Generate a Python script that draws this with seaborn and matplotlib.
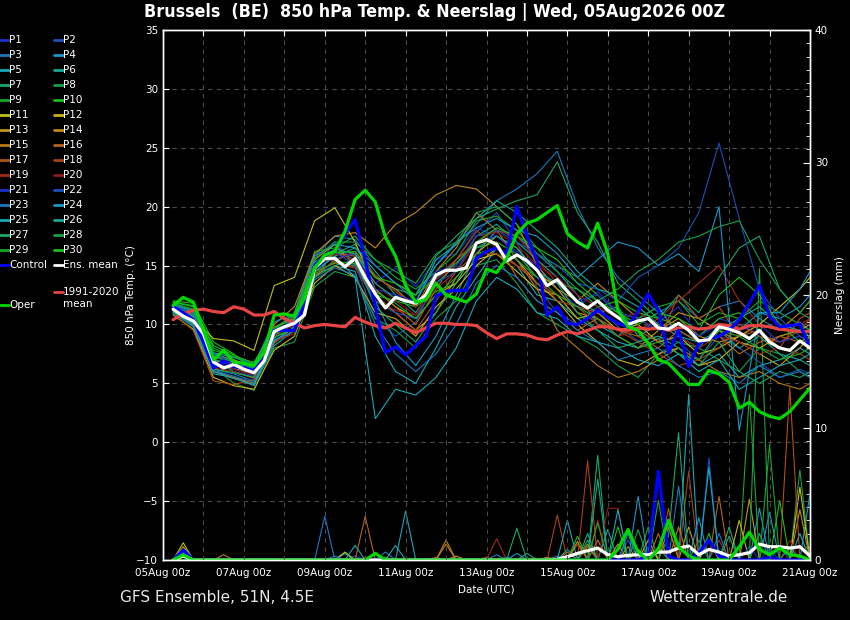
import numpy as np
import pandas as pd
import matplotlib.pyplot as plt
import seaborn as sns
from matplotlib.lines import Line2D
from matplotlib.ticker import MultipleLocator

# time in days after 05Aug 00z
t6 = np.arange(6, 385, 6) / 24                    # 6-hourly: 05Aug 06z .. 21Aug 00z
t12 = np.r_[np.arange(6, 384, 12), 384] / 24      # 12-hourly member temps

day_ticks = [0, 2, 4, 6, 8, 10, 12, 14, 16]
day_labels = ['05Aug 00z', '07Aug 00z', '09Aug 00z', '11Aug 00z', '13Aug 00z',
              '15Aug 00z', '17Aug 00z', '19Aug 00z', '21Aug 00z']

# 850 hPa temperature (deg C), 6-hourly
ens_mean = [11.3, 10.7, 10.3, 9.2, 6.8, 6.3, 6.6, 6.2, 5.9, 6.9, 9.4, 9.8, 10.1, 10.8, 14.8, 15.6,
            15.6, 14.9, 15.6, 14.0, 12.6, 11.4, 12.3, 12.0, 11.8, 12.5, 14.2, 14.6, 14.6, 14.8, 16.9, 17.2,
            16.8, 15.4, 15.9, 15.4, 14.6, 13.3, 13.8, 12.8, 11.9, 11.4, 12.0, 11.2, 10.6, 10.0, 10.3, 10.5,
            9.7, 9.6, 10.1, 9.5, 8.6, 8.7, 9.8, 9.6, 9.3, 8.8, 9.5, 8.5, 8.0, 7.8, 8.6, 8.0]
oper = [11.6, 12.3, 11.9, 9.5, 7.0, 7.8, 6.8, 6.7, 6.5, 7.6, 10.8, 10.9, 10.7, 12.2, 14.8, 15.9,
        16.2, 17.9, 20.6, 21.4, 20.4, 17.4, 15.8, 13.3, 11.9, 12.1, 13.5, 12.5, 12.2, 11.9, 12.6, 14.7,
        14.4, 15.6, 17.7, 18.6, 18.9, 19.5, 20.1, 17.7, 17.0, 16.5, 18.6, 16.0, 11.2, 9.8, 9.5, 8.4,
        7.0, 6.7, 5.8, 4.9, 4.9, 6.1, 5.8, 5.1, 2.9, 3.4, 2.6, 2.2, 2.0, 2.6, 3.6, 4.6]
control = [11.5, 11.0, 10.4, 8.5, 6.3, 6.9, 6.4, 6.3, 6.1, 7.3, 9.5, 9.5, 9.5, 11.8, 15.0, 15.9,
           16.2, 17.7, 18.9, 15.5, 11.5, 7.6, 8.1, 7.4, 8.2, 9.0, 12.4, 12.8, 12.9, 12.9, 15.6, 16.2,
           16.5, 16.0, 20.0, 17.5, 15.4, 10.8, 11.5, 10.1, 10.0, 10.5, 11.2, 10.6, 10.1, 9.8, 11.1, 12.6,
           11.2, 7.6, 9.5, 6.4, 8.4, 8.8, 9.0, 9.5, 10.4, 11.8, 13.3, 10.7, 9.8, 9.9, 10.0, 8.1]
clim_1991_2020 = [10.4, 10.9, 11.2, 11.3, 11.1, 11.0, 11.5, 11.3, 10.8, 10.8, 11.1, 10.5, 10.1, 9.7, 9.9, 10.0,
                  9.9, 9.8, 10.6, 10.2, 9.9, 9.7, 10.1, 9.7, 9.3, 9.7, 10.1, 10.1, 10.0, 10.0, 9.9, 9.3,
                  8.8, 9.2, 9.2, 9.1, 8.8, 8.7, 9.1, 9.4, 9.2, 9.5, 9.8, 9.8, 9.6, 9.5, 9.7, 9.6,
                  9.7, 9.5, 9.7, 9.8, 9.6, 9.7, 10.0, 9.9, 9.6, 9.9, 9.9, 9.8, 9.6, 9.5, 9.4, 9.4]

# perturbed members P1..P30, 12-hourly
members_t850 = [
    [11.4, 10.6, 6.6, 6.2, 5.6, 9.0, 10.4, 15.2, 16.4, 16.0, 13.5, 14.8, 13.2, 15.5, 16.0, 18.2, 17.5, 16.2, 15.0, 13.0, 11.5, 12.8, 11.0, 9.5, 10.2, 11.5, 9.0, 10.5, 10.0, 9.2, 8.5, 9.0, 8.4],
    [11.0, 10.2, 7.2, 6.8, 6.0, 9.6, 9.8, 14.6, 17.0, 15.2, 10.5, 9.0, 10.2, 13.8, 15.5, 17.8, 19.5, 17.0, 13.2, 11.0, 10.0, 11.5, 9.8, 8.6, 9.0, 8.5, 7.0, 9.0, 8.0, 6.8, 5.5, 6.2, 5.8],
    [11.2, 10.0, 6.2, 5.8, 5.2, 8.8, 10.8, 15.8, 17.5, 17.2, 15.0, 13.5, 12.0, 15.0, 16.8, 18.5, 20.5, 21.5, 22.8, 24.7, 20.0, 16.5, 14.0, 12.5, 11.0, 12.0, 10.5, 11.5, 12.0, 10.5, 9.5, 10.2, 9.5],
    [11.5, 10.8, 7.0, 6.5, 6.5, 9.8, 10.5, 14.0, 16.2, 15.5, 12.0, 8.5, 6.5, 9.0, 12.5, 16.0, 18.0, 17.5, 16.0, 14.5, 12.5, 10.0, 9.0, 10.5, 11.5, 9.0, 8.0, 10.0, 9.5, 11.0, 10.5, 11.5, 12.5],
    [11.0, 9.8, 5.8, 5.5, 4.8, 8.2, 9.5, 14.2, 15.0, 14.5, 9.0, 6.0, 5.0, 8.0, 11.5, 14.0, 16.5, 15.0, 12.5, 12.0, 10.5, 9.5, 8.5, 8.0, 8.8, 7.5, 6.5, 7.5, 5.5, 6.5, 7.0, 8.0, 7.5],
    [11.8, 11.2, 7.5, 7.0, 6.2, 9.2, 10.0, 15.0, 15.8, 16.5, 14.5, 12.5, 11.0, 13.5, 15.0, 17.5, 18.5, 17.0, 15.5, 14.0, 12.0, 11.0, 11.5, 9.0, 10.0, 9.5, 8.5, 9.5, 8.0, 9.0, 7.5, 7.0, 6.5],
    [11.6, 11.0, 7.0, 6.0, 5.5, 9.0, 10.2, 14.8, 16.0, 16.8, 14.0, 13.0, 12.5, 15.8, 17.5, 19.0, 19.8, 20.5, 21.0, 23.8, 19.5, 17.0, 13.5, 12.0, 10.5, 12.5, 11.0, 14.0, 16.5, 17.5, 13.0, 11.0, 10.5],
    [11.3, 10.4, 6.4, 5.0, 4.4, 8.0, 8.5, 13.2, 14.5, 14.0, 10.5, 9.5, 8.0, 10.5, 12.0, 15.0, 15.5, 13.5, 11.0, 10.0, 9.0, 8.0, 6.5, 5.5, 7.5, 8.5, 8.0, 7.0, 6.0, 8.0, 7.5, 6.0, 5.5],
    [11.9, 11.6, 8.0, 7.2, 6.8, 9.5, 11.0, 16.2, 16.5, 17.5, 15.5, 14.0, 13.0, 14.5, 16.0, 18.8, 19.2, 18.0, 16.0, 15.0, 14.0, 12.5, 11.0, 10.5, 11.5, 12.0, 10.0, 11.0, 10.5, 12.0, 11.0, 10.0, 9.5],
    [12.0, 11.8, 8.5, 7.5, 6.0, 9.0, 9.6, 14.5, 15.2, 15.0, 12.5, 12.0, 11.5, 12.8, 13.5, 16.5, 17.0, 16.0, 14.0, 13.5, 13.0, 11.5, 12.0, 11.0, 10.5, 10.0, 9.0, 10.5, 11.0, 9.5, 8.0, 7.5, 7.0],
    [11.2, 10.5, 8.8, 8.6, 7.8, 13.3, 14.0, 18.8, 19.9, 17.0, 13.0, 11.5, 10.5, 12.5, 13.5, 15.5, 16.0, 14.5, 13.0, 12.5, 10.5, 11.0, 9.5, 10.0, 8.5, 9.0, 7.5, 8.0, 9.0, 10.0, 11.5, 13.0, 14.0],
    [10.8, 9.6, 5.5, 4.8, 4.5, 7.8, 9.0, 13.5, 15.0, 14.0, 11.0, 10.5, 9.0, 11.5, 13.0, 15.0, 16.5, 15.5, 13.5, 12.0, 10.0, 8.5, 7.0, 6.5, 7.5, 8.0, 6.5, 7.0, 8.5, 8.0, 9.0, 9.5, 10.0],
    [11.3, 10.2, 6.5, 6.3, 5.8, 9.2, 10.2, 15.5, 16.8, 15.0, 12.0, 11.0, 9.5, 11.0, 14.0, 16.0, 17.5, 16.5, 14.5, 13.0, 11.0, 10.5, 9.0, 8.0, 9.5, 11.0, 10.5, 9.5, 8.5, 7.5, 6.5, 8.0, 9.0],
    [11.6, 10.8, 7.3, 7.0, 6.4, 10.0, 11.5, 16.0, 17.5, 17.8, 16.5, 18.5, 19.5, 21.0, 21.8, 21.5, 20.0, 18.5, 15.0, 13.0, 12.0, 13.5, 12.0, 10.5, 9.5, 10.5, 9.0, 8.5, 9.0, 10.0, 9.5, 11.0, 12.0],
    [11.1, 10.0, 6.0, 5.5, 5.0, 8.5, 9.5, 14.0, 15.5, 16.0, 14.0, 13.0, 11.5, 14.5, 16.5, 19.5, 18.0, 15.5, 13.0, 9.5, 8.0, 6.5, 5.5, 6.0, 7.0, 8.0, 7.0, 6.0, 5.5, 6.0, 5.0, 4.5, 5.0],
    [11.4, 10.6, 6.9, 6.7, 6.0, 9.5, 10.0, 15.0, 16.0, 15.8, 13.0, 11.5, 10.0, 13.0, 15.5, 17.0, 17.0, 14.0, 12.0, 11.0, 9.5, 10.5, 9.5, 9.0, 8.0, 9.5, 8.5, 9.0, 7.5, 8.5, 9.0, 8.5, 9.0],
    [10.9, 9.5, 5.2, 4.9, 5.3, 8.4, 9.8, 14.5, 15.2, 14.8, 12.5, 11.0, 9.5, 12.0, 14.5, 16.0, 16.0, 15.0, 13.5, 12.5, 11.5, 11.0, 10.0, 9.5, 8.5, 12.5, 10.5, 11.5, 9.0, 9.5, 8.0, 10.5, 11.0],
    [11.5, 10.9, 7.1, 6.4, 6.1, 9.8, 10.6, 15.4, 15.5, 16.2, 14.2, 12.8, 11.5, 14.0, 15.5, 18.0, 16.5, 15.0, 14.0, 12.0, 11.5, 10.0, 9.5, 8.5, 7.5, 6.5, 7.0, 8.0, 10.0, 9.0, 8.5, 9.5, 10.5],
    [11.0, 10.1, 6.3, 6.0, 5.4, 8.6, 9.2, 14.2, 15.4, 14.8, 12.0, 11.2, 10.8, 13.0, 14.5, 17.0, 18.0, 17.5, 15.5, 13.5, 12.0, 10.5, 9.0, 9.5, 10.5, 12.0, 13.5, 15.0, 12.0, 10.0, 9.5, 10.0, 10.5],
    [11.3, 10.4, 6.8, 6.2, 5.7, 9.0, 10.0, 15.2, 16.0, 15.5, 13.5, 12.0, 10.8, 13.8, 15.0, 17.5, 17.8, 16.8, 15.0, 14.0, 12.5, 11.5, 10.5, 11.0, 10.0, 9.0, 8.0, 9.0, 8.5, 7.5, 8.0, 7.5, 7.0],
    [11.2, 10.3, 6.7, 6.4, 5.8, 9.4, 10.0, 14.8, 15.6, 16.0, 13.0, 12.5, 12.0, 14.5, 15.0, 17.0, 17.5, 16.0, 14.5, 13.5, 12.0, 12.5, 11.0, 10.5, 9.5, 10.0, 9.0, 10.0, 9.5, 10.0, 8.5, 9.0, 8.5],
    [11.6, 10.9, 7.4, 6.9, 6.3, 9.6, 10.2, 15.0, 16.2, 15.0, 12.0, 11.0, 10.5, 13.5, 14.5, 17.5, 18.0, 17.0, 16.0, 15.0, 13.5, 13.0, 12.0, 14.0, 15.0, 16.5, 19.5, 25.4, 19.0, 13.0, 10.5, 9.0, 8.5],
    [10.9, 9.9, 6.1, 5.6, 5.1, 8.7, 9.4, 13.8, 14.8, 14.2, 10.0, 7.5, 6.0, 7.5, 10.0, 13.5, 15.0, 14.0, 12.0, 11.0, 9.5, 8.5, 7.0, 7.5, 8.0, 6.5, 5.5, 6.0, 5.0, 6.5, 5.5, 6.0, 5.5],
    [11.7, 11.1, 7.6, 7.2, 6.6, 10.2, 10.9, 15.8, 16.8, 16.5, 15.0, 13.5, 12.5, 15.0, 17.0, 18.2, 19.0, 18.0, 17.5, 16.0, 14.0, 15.5, 17.0, 16.5, 15.0, 16.0, 14.5, 20.0, 1.0, 11.0, 11.0, 13.0, 14.5],
    [11.1, 10.1, 6.0, 5.4, 4.9, 8.6, 9.8, 14.5, 15.8, 14.0, 2.0, 4.5, 4.0, 5.5, 8.0, 12.0, 14.0, 13.0, 11.0, 10.5, 9.0, 8.5, 8.0, 7.0, 6.5, 7.5, 6.0, 7.0, 4.5, 5.5, 6.5, 7.0, 7.5],
    [11.4, 10.7, 7.0, 6.6, 5.9, 9.2, 10.4, 15.3, 16.4, 16.0, 13.5, 12.2, 11.8, 15.5, 16.8, 19.0, 20.5, 19.5, 18.0, 16.5, 14.5, 13.0, 12.5, 11.5, 10.0, 9.0, 8.5, 9.5, 10.5, 11.5, 10.0, 9.5, 9.0],
    [11.0, 10.0, 6.2, 5.9, 5.5, 8.9, 9.6, 14.0, 15.0, 15.5, 11.5, 10.0, 8.5, 11.0, 13.5, 16.5, 17.5, 16.5, 14.5, 13.5, 11.0, 9.5, 8.0, 8.5, 9.0, 8.0, 6.5, 8.5, 6.0, 5.0, 6.0, 5.5, 6.0],
    [11.5, 10.8, 7.2, 6.9, 6.3, 9.7, 10.8, 15.6, 17.0, 17.0, 15.5, 14.5, 13.5, 16.0, 17.0, 19.5, 20.0, 18.5, 16.5, 14.5, 13.0, 12.0, 13.0, 14.5, 15.5, 17.0, 17.5, 18.3, 18.8, 15.5, 13.0, 11.0, 12.0],
    [11.8, 11.3, 7.8, 7.3, 6.4, 9.3, 9.6, 14.3, 15.3, 15.2, 12.8, 11.8, 10.5, 12.5, 14.0, 16.0, 16.5, 15.5, 14.0, 12.5, 11.5, 10.5, 9.0, 8.0, 8.5, 7.5, 7.0, 9.5, 9.0, 8.0, 7.0, 7.5, 8.0],
    [11.9, 11.5, 8.2, 7.4, 6.7, 9.7, 10.5, 15.0, 16.1, 16.2, 14.0, 13.5, 12.5, 14.0, 15.2, 17.0, 18.2, 17.5, 16.5, 15.5, 13.5, 12.0, 11.0, 10.0, 11.0, 10.5, 9.5, 12.5, 14.0, 12.5, 10.0, 8.5, 9.0],
]

# precipitation (mm / 6h): non-zero steps only, (day, mm)
members_rain = {
    1: [(0.5, 0.8), (15.0, 0.8)],
    2: [(4.75, 0.3), (15.25, 1.0)],
    3: [(0.5, 0.6), (4.0, 3.3), (8.25, 0.4), (9.75, 0.3), (12.0, 1.0), (12.75, 5.6)],
    4: [(8.5, 0.2), (11.5, 2.0), (14.75, 3.9), (16.0, 5.0)],
    5: [(0.5, 0.4), (4.5, 0.5), (6.0, 3.7), (11.0, 2.3), (13.0, 12.5), (15.75, 2.0)],
    6: [(9.0, 0.5), (10.5, 2.0), (12.25, 1.0), (14.75, 2.0)],
    7: [(8.75, 2.4), (10.75, 7.9), (14.0, 2.5)],
    8: [(13.25, 1.5), (15.75, 6.8)],
    9: [(0.5, 0.5), (5.5, 0.2), (12.0, 2.5), (14.5, 12.5)],
    10: [(10.25, 1.8), (13.5, 2.0)],
    11: [(0.5, 1.3), (4.5, 0.6), (11.75, 0.8), (13.5, 1.5), (15.75, 5.5)],
    12: [(0.5, 1.0), (9.5, 0.2), (12.0, 1.5), (14.25, 3.0)],
    13: [(7.25, 0.3), (10.25, 1.4), (11.25, 1.2), (13.0, 2.5), (14.5, 4.6)],
    14: [(7.0, 1.5), (10.5, 1.2), (11.5, 1.0), (12.5, 2.5), (15.75, 3.8)],
    15: [(1.5, 0.4), (7.0, 1.2), (10.0, 0.6), (10.75, 1.5), (12.75, 2.5)],
    16: [(5.0, 3.3), (6.75, 0.2), (10.5, 1.0), (12.25, 2.0), (13.75, 4.8)],
    17: [(8.0, 0.2), (10.25, 1.2), (12.5, 3.9), (15.5, 13.0)],
    18: [(9.75, 3.4), (10.5, 7.5), (13.0, 6.7)],
    19: [(5.0, 0.2), (8.25, 1.6), (10.75, 3.0), (13.75, 1.5)],
    20: [(5.25, 0.5), (11.0, 3.9), (11.25, 3.9), (15.5, 1.5)],
    21: [(0.5, 0.7), (14.5, 1.0)],
    22: [(11.5, 1.5), (13.5, 7.7)],
    23: [(4.25, 0.3), (5.5, 0.6), (13.75, 2.0)],
    24: [(8.75, 0.5), (11.75, 4.8), (13.25, 3.2), (15.0, 3.6)],
    25: [(4.75, 1.1), (5.75, 1.1), (10.0, 3.0), (11.25, 3.8), (13.5, 7.0)],
    26: [(10.0, 0.8), (10.75, 6.1), (14.0, 1.8), (15.5, 1.0)],
    27: [(10.5, 1.5), (12.5, 1.8), (12.75, 9.6)],
    28: [(11.75, 2.3), (12.25, 4.5), (14.75, 22.0)],
    29: [(0.5, 0.3), (10.75, 2.8), (15.0, 8.7)],
    30: [(11.25, 2.5), (15.25, 4.5)],
}
control_rain = [(0.5, 0.75), (12.0, 0.3), (12.25, 6.7), (12.5, 0.3), (13.25, 0.5), (13.5, 1.5),
                (13.75, 0.3), (15.0, 0.2)]
oper_rain = [(0.5, 0.4), (5.25, 0.5), (11.25, 0.8), (11.5, 2.3), (11.75, 0.6), (12.25, 0.8), (12.5, 3.0),
             (12.75, 1.0), (13.0, 0.3), (14.25, 1.0), (14.5, 2.1), (14.75, 0.8), (15.0, 0.4),
             (15.25, 0.9), (15.5, 0.4), (15.75, 0.3)]
mean_rain = [(0.5, 0.3), (9.75, 0.05), (10.0, 0.25), (10.25, 0.5), (10.5, 0.7), (10.75, 0.9), (11.0, 0.4),
             (11.25, 0.25), (11.5, 0.35), (11.75, 0.4), (12.0, 0.4), (12.25, 0.6), (12.5, 0.6),
             (12.75, 0.9), (13.0, 1.05), (13.25, 0.4), (13.5, 0.8), (13.75, 0.6), (14.0, 0.3),
             (14.25, 0.4), (14.5, 0.55), (14.75, 1.2), (15.0, 1.0), (15.25, 1.0), (15.5, 0.9),
             (15.75, 1.0), (16.0, 0.3)]

member_palette = ['#1a30c8', '#1a50b8', '#1a78c0', '#1898c8', '#18a8b8', '#18a890', '#18a868',
                  '#18a048', '#18a828', '#18c018', '#c0c018', '#c8b018', '#c09818', '#c08818',
                  '#b87818', '#b86418', '#b05018', '#a84018', '#a02818', '#901818']
member_names = ['P%d' % i for i in range(1, 31)]
member_colors = {n: member_palette[i % 20] for i, n in enumerate(member_names)}

c_control = '#0000ff'
c_mean = '#ffffff'
c_oper = '#00d800'
c_clim = '#e84444'


def rain_series(spikes):
    r = np.zeros(len(t6))
    for day, mm in spikes:
        r[np.argmin(np.abs(t6 - day))] = mm
    return r


sns.set_style('dark', rc={'axes.facecolor': 'black', 'figure.facecolor': 'black'})
plt.rcParams['font.family'] = ['DejaVu Sans']

fig = plt.figure(figsize=(8.5, 6.2), dpi=100, facecolor='black')
ax = fig.add_axes([163 / 850, 60 / 620, 647 / 850, 530 / 620])
ax2 = ax.twinx()

# long tables for seaborn
temp_df = pd.DataFrame({
    'day': np.tile(t12, 30),
    't850': np.concatenate(members_t850),
    'member': np.repeat(member_names, len(t12)),
})
rain_df = pd.DataFrame({
    'day': np.tile(t6, 30),
    'rain': np.concatenate([rain_series(members_rain[i + 1]) for i in range(30)]),
    'member': np.repeat(member_names, len(t6)),
})

# precipitation on the right axis
sns.lineplot(data=rain_df, x='day', y='rain', hue='member', palette=member_colors,
             estimator=None, lw=0.8, legend=False, ax=ax2)
sns.lineplot(x=t6, y=rain_series(control_rain), color=c_control, lw=2.3, ax=ax2)
sns.lineplot(x=t6, y=rain_series(mean_rain), color=c_mean, lw=2.3, ax=ax2)
sns.lineplot(x=t6, y=rain_series(oper_rain), color=c_oper, lw=2.3, ax=ax2)

# temperatures on the left axis
sns.lineplot(data=temp_df, x='day', y='t850', hue='member', palette=member_colors,
             estimator=None, lw=0.8, legend=False, ax=ax)
sns.lineplot(x=t6, y=clim_1991_2020, color=c_clim, lw=2.3, ax=ax)
sns.lineplot(x=t6, y=control, color=c_control, lw=2.3, ax=ax)
sns.lineplot(x=t6, y=ens_mean, color=c_mean, lw=2.3, ax=ax)
sns.lineplot(x=t6, y=oper, color=c_oper, lw=2.3, ax=ax)

ax.set_zorder(ax2.get_zorder() + 1)
ax.patch.set_visible(False)
ax2.set_facecolor('black')

ax.set_xlim(0, 16)
ax.set_ylim(-10, 35)
ax2.set_ylim(0, 40)
ax.set_xticks(day_ticks)
ax.set_xticklabels(day_labels)
ax.xaxis.set_minor_locator(MultipleLocator(1))
ax.yaxis.set_major_locator(MultipleLocator(5))
ax2.yaxis.set_major_locator(MultipleLocator(10))
ax2.yaxis.set_minor_locator(MultipleLocator(1))

ax.grid(True, which='major', color='#4a4a4a', ls=(0, (4, 4)), lw=0.8)
ax.grid(True, which='minor', axis='x', color='#4a4a4a', ls=(0, (4, 4)), lw=0.8)
ax2.grid(False)

ax.tick_params(axis='both', which='both', direction='in', colors='white', labelsize=7.5,
               top=True, length=4, width=0.8)
ax.tick_params(axis='y', which='both', right=False)
ax.tick_params(axis='x', pad=6)
ax2.tick_params(axis='y', which='major', direction='in', colors='white', labelsize=7.5, length=5)
ax2.tick_params(axis='y', which='minor', direction='in', colors='white', length=3)
for a in (ax, ax2):
    for s in a.spines.values():
        s.set_color('white')
        s.set_linewidth(1.0)
ax.set_xlabel('')
ax.set_ylabel('')
ax2.set_ylabel('')

fig.text(131 / 850, 1 - 295 / 620, '850 hPa Temp. (°C)', color='white', fontsize=7.5,
         rotation=90, ha='center', va='center')
fig.text(840 / 850, 1 - 295 / 620, 'Neerslag (mm)', color='white', fontsize=7.5,
         rotation=90, ha='center', va='center')
fig.text(486 / 850, 1 - 589 / 620, 'Date (UTC)', color='white', fontsize=7.5, ha='center', va='center')
fig.text(435 / 850, 1 - 12 / 620, 'Brussels  (BE)  850 hPa Temp. & Neerslag | Wed, 05Aug2026 00Z',
         color='white', fontsize=12.8, fontweight='bold', fontstretch='condensed',
         ha='center', va='center')
fig.text(120 / 850, 1 - 598 / 620, 'GFS Ensemble, 51N, 4.5E', color='#e8e8e8', fontsize=11,
         ha='left', va='center')
fig.text(650 / 850, 1 - 598 / 620, 'Wetterzentrale.de', color='#e8e8e8', fontsize=11,
         ha='left', va='center')

# legend, two columns left of the plot
def legend_item(xl, y, color, label, lw=2.0):
    fy = 1 - y / 620
    fig.add_artist(Line2D([xl / 850, (xl + 9) / 850], [fy, fy], transform=fig.transFigure,
                          color=color, lw=lw))
    fig.text((xl + 9) / 850, fy, label, color='white', fontsize=7.5, ha='left', va='center')

for i, name in enumerate(member_names):
    col, row = i % 2, i // 2
    legend_item(0 if col == 0 else 54, 40 + row * 15, member_colors[name], name)
legend_item(0, 265, c_control, 'Control')
legend_item(54, 265, c_mean, 'Ens. mean')
legend_item(54, 292, c_clim, '1991-2020')
fig.text(63 / 850, 1 - 304 / 620, 'mean', color='white', fontsize=7.5, ha='left', va='center')
legend_item(0, 305, c_oper, 'Oper')

fig.savefig('out.png', dpi=100, facecolor='black')
